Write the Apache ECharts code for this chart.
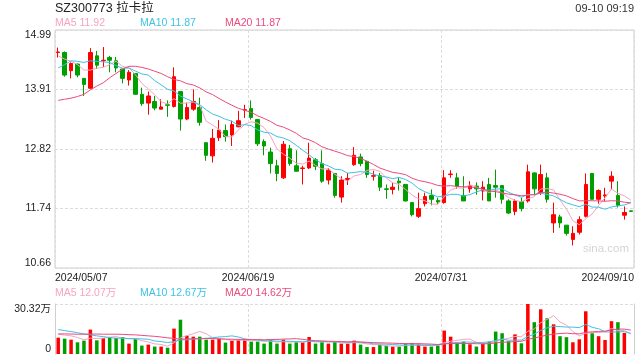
<!DOCTYPE html>
<html><head><meta charset="utf-8">
<script src="https://cdn.jsdelivr.net/npm/echarts@6/dist/echarts.min.js"></script>
<style>html,body{margin:0;padding:0;background:#fff}#c{width:640px;height:360px}</style>
</head><body><div id="c"></div>
<script>
const dates = [
'2024/05/07','2024/05/08','2024/05/09','2024/05/10','2024/05/13','2024/05/14','2024/05/15','2024/05/16','2024/05/17','2024/05/20',
'2024/05/21','2024/05/22','2024/05/23','2024/05/24','2024/05/27','2024/05/28','2024/05/29','2024/05/30','2024/05/31','2024/06/03',
'2024/06/04','2024/06/05','2024/06/06','2024/06/07','2024/06/11','2024/06/12','2024/06/13','2024/06/14','2024/06/17','2024/06/18',
'2024/06/19','2024/06/20','2024/06/21','2024/06/24','2024/06/25','2024/06/26','2024/06/27','2024/06/28','2024/07/01','2024/07/02',
'2024/07/03','2024/07/04','2024/07/05','2024/07/08','2024/07/09','2024/07/10','2024/07/11','2024/07/12','2024/07/15','2024/07/16',
'2024/07/17','2024/07/18','2024/07/19','2024/07/22','2024/07/23','2024/07/24','2024/07/25','2024/07/26','2024/07/29','2024/07/30',
'2024/07/31','2024/08/01','2024/08/02','2024/08/05','2024/08/06','2024/08/07','2024/08/08','2024/08/09','2024/08/12','2024/08/13',
'2024/08/14','2024/08/15','2024/08/16','2024/08/19','2024/08/20','2024/08/21','2024/08/22','2024/08/23','2024/08/26','2024/08/27',
'2024/08/28','2024/08/29','2024/08/30','2024/09/02','2024/09/03','2024/09/04','2024/09/05','2024/09/06','2024/09/09','2024/09/10'];

const opens = [14.58,14.58,14.25,14.37,14.11,13.93,14.52,14.43,14.49,14.43,
14.28,14.08,14.20,13.82,13.66,13.69,13.55,13.63,13.60,13.87,
13.37,13.55,13.58,12.94,12.70,13.03,13.16,13.08,13.23,13.53,
13.56,13.36,12.96,12.77,12.52,12.30,12.83,12.52,12.47,12.48,
12.63,12.56,12.26,12.38,11.95,12.27,12.54,12.68,12.60,12.33,
12.34,12.10,12.09,12.24,12.18,11.85,11.60,11.83,11.98,11.89,
11.85,12.36,12.30,11.98,12.10,12.15,12.06,12.18,12.16,12.16,
11.88,11.69,11.87,11.88,12.39,12.03,12.30,11.48,11.59,11.44,
11.18,11.31,11.60,12.38,11.91,11.97,12.24,11.98,11.62,11.70];
const closes = [14.59,14.17,14.38,14.17,14.00,14.58,14.35,14.44,14.44,14.30,
14.11,14.22,13.82,13.65,13.79,13.57,13.59,13.62,14.14,13.37,
13.58,13.69,13.31,12.71,13.02,13.17,13.05,13.27,13.34,13.54,
13.40,12.92,12.88,12.56,12.38,12.91,12.56,12.42,12.48,12.66,
12.51,12.24,12.44,11.98,12.26,12.29,12.71,12.56,12.36,12.34,
12.13,12.09,12.13,12.21,11.88,11.63,11.74,11.96,11.91,11.86,
12.30,12.37,12.15,11.88,12.16,12.10,12.13,11.88,12.13,11.91,
11.66,11.88,11.74,12.41,12.10,12.36,11.91,11.63,11.48,11.29,
11.29,11.54,12.18,11.91,12.07,11.99,12.33,11.80,11.67,11.69];
const lows = [14.49,14.14,14.11,14.13,13.79,13.92,14.28,14.32,14.22,14.22,
14.02,13.98,13.82,13.61,13.45,13.53,13.55,13.41,13.58,13.16,
13.35,13.52,13.25,12.61,12.58,12.97,12.96,12.88,13.22,13.39,
13.36,12.88,12.71,12.38,12.24,12.28,12.52,12.42,12.18,12.46,
12.44,12.21,12.18,11.94,11.85,12.17,12.52,12.51,12.30,12.25,
12.06,11.92,12.00,12.07,11.87,11.60,11.57,11.78,11.80,11.82,
11.83,12.30,12.10,11.88,12.03,11.99,11.89,11.88,11.94,11.83,
11.64,11.62,11.69,11.85,11.98,11.99,11.85,11.30,11.39,11.25,
11.07,11.27,11.58,11.91,11.83,11.88,12.09,11.76,11.54,11.69];
const highs = [14.67,14.60,14.40,14.38,14.11,14.66,14.61,14.68,14.52,14.50,
14.28,14.26,14.20,13.94,13.87,13.79,13.73,13.71,14.31,13.87,
13.67,13.91,13.76,12.94,13.19,13.35,13.27,13.34,13.52,13.63,
13.71,13.36,13.00,12.85,12.63,12.97,12.90,12.80,12.52,12.94,
12.66,12.80,12.48,12.38,12.33,12.39,12.86,12.74,12.60,12.43,
12.39,12.18,12.21,12.31,12.19,11.85,12.03,12.03,12.09,11.94,
12.44,12.44,12.39,12.33,12.24,12.22,12.24,12.30,12.45,12.16,
11.91,11.91,11.94,12.54,12.40,12.54,12.39,11.85,11.63,11.44,
11.42,11.60,12.38,12.39,12.09,12.12,12.42,12.24,11.78,11.70];
// volume in 万
const volumes = [9.9,9.3,8.7,7.1,8.1,14.8,8.3,9.7,10.3,9.7,
10.3,6.3,9.1,5.1,5.7,4.5,4.5,3.8,15.4,20.8,
11.1,10.5,10.5,8.7,8.7,9.3,6.9,8.1,8.7,8.7,
7.5,7.5,6.3,8.7,6.3,8.7,6.3,7.1,7.1,10.3,
6.3,7.1,6.3,7.3,6.3,6.3,8.1,5.7,4.2,4.2,
5.7,5.1,4.5,4.5,6.3,6.7,6.3,4.5,4.5,5.1,
14.2,10.5,7.1,7.5,5.9,4.5,6.3,7.5,13.6,12.6,
7.7,11.9,6.5,30.32,19.3,27.1,21.7,18.0,10.8,10.2,
7.1,8.9,25.9,12.6,10.8,8.5,19.9,19.3,12.8,0];
// moving-average values before a full window is available
const ma5Head = [14.52,14.46,14.42,14.36];
const ma10Head = [14.30,14.36,14.43,14.42,14.40,14.43,14.42,14.41,14.40];
const ma20Head = [13.71,13.73,13.75,13.78,13.82,13.90,13.97,14.03,14.12,14.20,14.28,14.33,14.33,14.31,14.28,14.24,14.20,14.14,14.09];
const vma5Head = [12.0,11.5,11.0,10.0];
const vma10Head = [14.8,14.2,13.6,12.9,12.2,11.6,11.0,10.5,10.0];
const vma20Head = [12.2,12.2,12.1,12.0,12.0,12.1,12.1,12.0,12.0,12.0,11.9,11.7,11.6,11.3,11.0,10.7,10.3,9.8,9.4];

const yTickLabels = ['10.66','11.74','12.82','13.91','14.99'];
const volTickLabels = ['0','30.32万'];
const xTickLabels = ['2024/05/07','2024/06/19','2024/07/31','2024/09/10'];
const stockTitle = 'SZ300773 拉卡拉';
const timeText = '09-10 09:19';
const maTexts = ['MA5 11.92','MA10 11.87','MA20 11.87'];
const volMaTexts = ['MA5 12.07万','MA10 12.67万','MA20 14.62万'];
const watermark = 'sina.com';

const RED = '#ff0000', GREEN = '#009f00';
const MA_COLORS = ['#f7a3c3','#3ec3e3','#ec4b7c'];
const FONT = "'Liberation Sans', Arial, 'Noto Sans CJK SC', sans-serif";

function movingAvg(arr, n, head){
  return arr.map((v,i)=>{
    if(i < n-1) return head[i];
    let s=0; for(let k=i-n+1;k<=i;k++) s+=arr[k];
    return +(s/n).toFixed(3);
  });
}
function sign(i){
  if(closes[i]>opens[i]) return 1;
  if(closes[i]<opens[i]) return -1;
  return i>0 && closes[i-1]<=closes[i] ? 1 : -1;
}
const candleData = dates.map((d,i)=>[opens[i],closes[i],lows[i],highs[i]]);
const volData = volumes.map((v,i)=>({value:v,itemStyle:{color: sign(i)>0?RED:GREEN}}));

const dotted = {color:'#dcdcdc', width:1, type:[3,2]};
const txt = (s)=>Object.assign({fontFamily:FONT, fontWeight:'normal', color:'#333', fontSize:10.5}, s||{});

const titles = [
  {text:stockTitle, left:55, top:2, padding:0, textStyle:txt({fontSize:12.5,color:'#222'})},
  {text:timeText, right:6, top:3, padding:0, textStyle:txt({fontSize:11})},
  {text:watermark, left:583, top:243, padding:0, textStyle:txt({fontSize:11.5,color:'#d4d4d4'})}
];
[55,140,225].forEach((x,k)=>{
  titles.push({text:maTexts[k], left:x, top:18, padding:0, textStyle:txt({color:MA_COLORS[k]})});
  titles.push({text:volMaTexts[k], left:x, top:288, padding:0, textStyle:txt({color:MA_COLORS[k]})});
});

const option = {
  animation:false,
  backgroundColor:'#fff',
  title: titles,
  grid:[
    {left:55, right:6, top:30, height:238, show:true, borderColor:'#cfcfcf', borderWidth:1, outerBoundsMode:'none', containLabel:false},
    {left:55, right:6, top:304, height:50, show:false, outerBoundsMode:'none', containLabel:false}
  ],
  xAxis:[
    {type:'category', gridIndex:0, data:dates, boundaryGap:true, show:false},
    {type:'category', gridIndex:1, data:dates, boundaryGap:true, show:false},
    {type:'value', gridIndex:0, min:0, max:90, interval:30, position:'bottom',
      axisLine:{show:false}, axisTick:{show:false},
      axisLabel:{formatter:(v)=>xTickLabels[Math.round(v/30)], fontFamily:FONT, fontSize:10.5, color:'#222', margin:5,
        alignMinLabel:'left', alignMaxLabel:'right', showMinLabel:true, showMaxLabel:true},
      splitLine:{show:true, lineStyle:dotted}},
    {type:'value', gridIndex:1, min:0, max:90, interval:30, position:'bottom',
      axisLine:{show:false}, axisTick:{show:false}, axisLabel:{show:false},
      splitLine:{show:true, lineStyle:dotted}}
  ],
  yAxis:[
    {type:'value', gridIndex:0, min:10.66, max:14.99, show:false, position:'right'},
    {type:'value', gridIndex:0, min:0, max:4, interval:1, position:'left',
      axisLine:{show:false}, axisTick:{show:false},
      axisLabel:{formatter:(v)=>yTickLabels[Math.round(v)], fontFamily:FONT, fontSize:10.5, color:'#222', margin:4,
        verticalAlignMinLabel:'bottom', verticalAlignMaxLabel:'top', showMinLabel:true, showMaxLabel:true},
      splitLine:{show:true, lineStyle:dotted}},
    {type:'value', gridIndex:1, min:0, max:30.32, show:false, position:'right'},
    {type:'value', gridIndex:1, min:0, max:1, interval:1, position:'left',
      axisLine:{show:true, lineStyle:{color:'#cfcfcf'}}, axisTick:{show:false},
      axisLabel:{formatter:(v)=>volTickLabels[Math.round(v)], fontFamily:FONT, fontSize:10.5, color:'#222', margin:4,
        verticalAlignMinLabel:'bottom', verticalAlignMaxLabel:'top', showMinLabel:true, showMaxLabel:true},
      splitLine:{show:true, lineStyle:{color:['rgba(0,0,0,0)','#dcdcdc'], width:1, type:[3,2]}}},
    {type:'value', gridIndex:1, min:0, max:1, position:'right', offset:0,
      axisLine:{show:true, lineStyle:{color:'#cfcfcf'}}, axisTick:{show:false}, axisLabel:{show:false}, splitLine:{show:false}}
  ],
  series:[
    {type:'candlestick', xAxisIndex:0, yAxisIndex:0, data:candleData, barWidth:4,
      itemStyle:{color:RED, color0:GREEN, borderColor:RED, borderColor0:GREEN, borderWidth:1}},
    {type:'line', xAxisIndex:0, yAxisIndex:0, data:movingAvg(closes,5,ma5Head), showSymbol:false, z:3,
      lineStyle:{color:MA_COLORS[0], width:1}},
    {type:'line', xAxisIndex:0, yAxisIndex:0, data:movingAvg(closes,10,ma10Head), showSymbol:false, z:3,
      lineStyle:{color:MA_COLORS[1], width:1}},
    {type:'line', xAxisIndex:0, yAxisIndex:0, data:movingAvg(closes,20,ma20Head), showSymbol:false, z:3,
      lineStyle:{color:MA_COLORS[2], width:1}},
    {type:'bar', xAxisIndex:1, yAxisIndex:2, data:volData, barWidth:3.5},
    {type:'line', xAxisIndex:1, yAxisIndex:2, data:movingAvg(volumes,5,vma5Head), showSymbol:false, z:3,
      lineStyle:{color:MA_COLORS[0], width:1}},
    {type:'line', xAxisIndex:1, yAxisIndex:2, data:movingAvg(volumes,10,vma10Head), showSymbol:false, z:3,
      lineStyle:{color:MA_COLORS[1], width:1}},
    {type:'line', xAxisIndex:1, yAxisIndex:2, data:movingAvg(volumes,20,vma20Head), showSymbol:false, z:3,
      lineStyle:{color:MA_COLORS[2], width:1}}
  ]
};
const chart = echarts.init(document.getElementById('c'), null, {renderer:'canvas'});
chart.setOption(option);
</script>
</body></html>
